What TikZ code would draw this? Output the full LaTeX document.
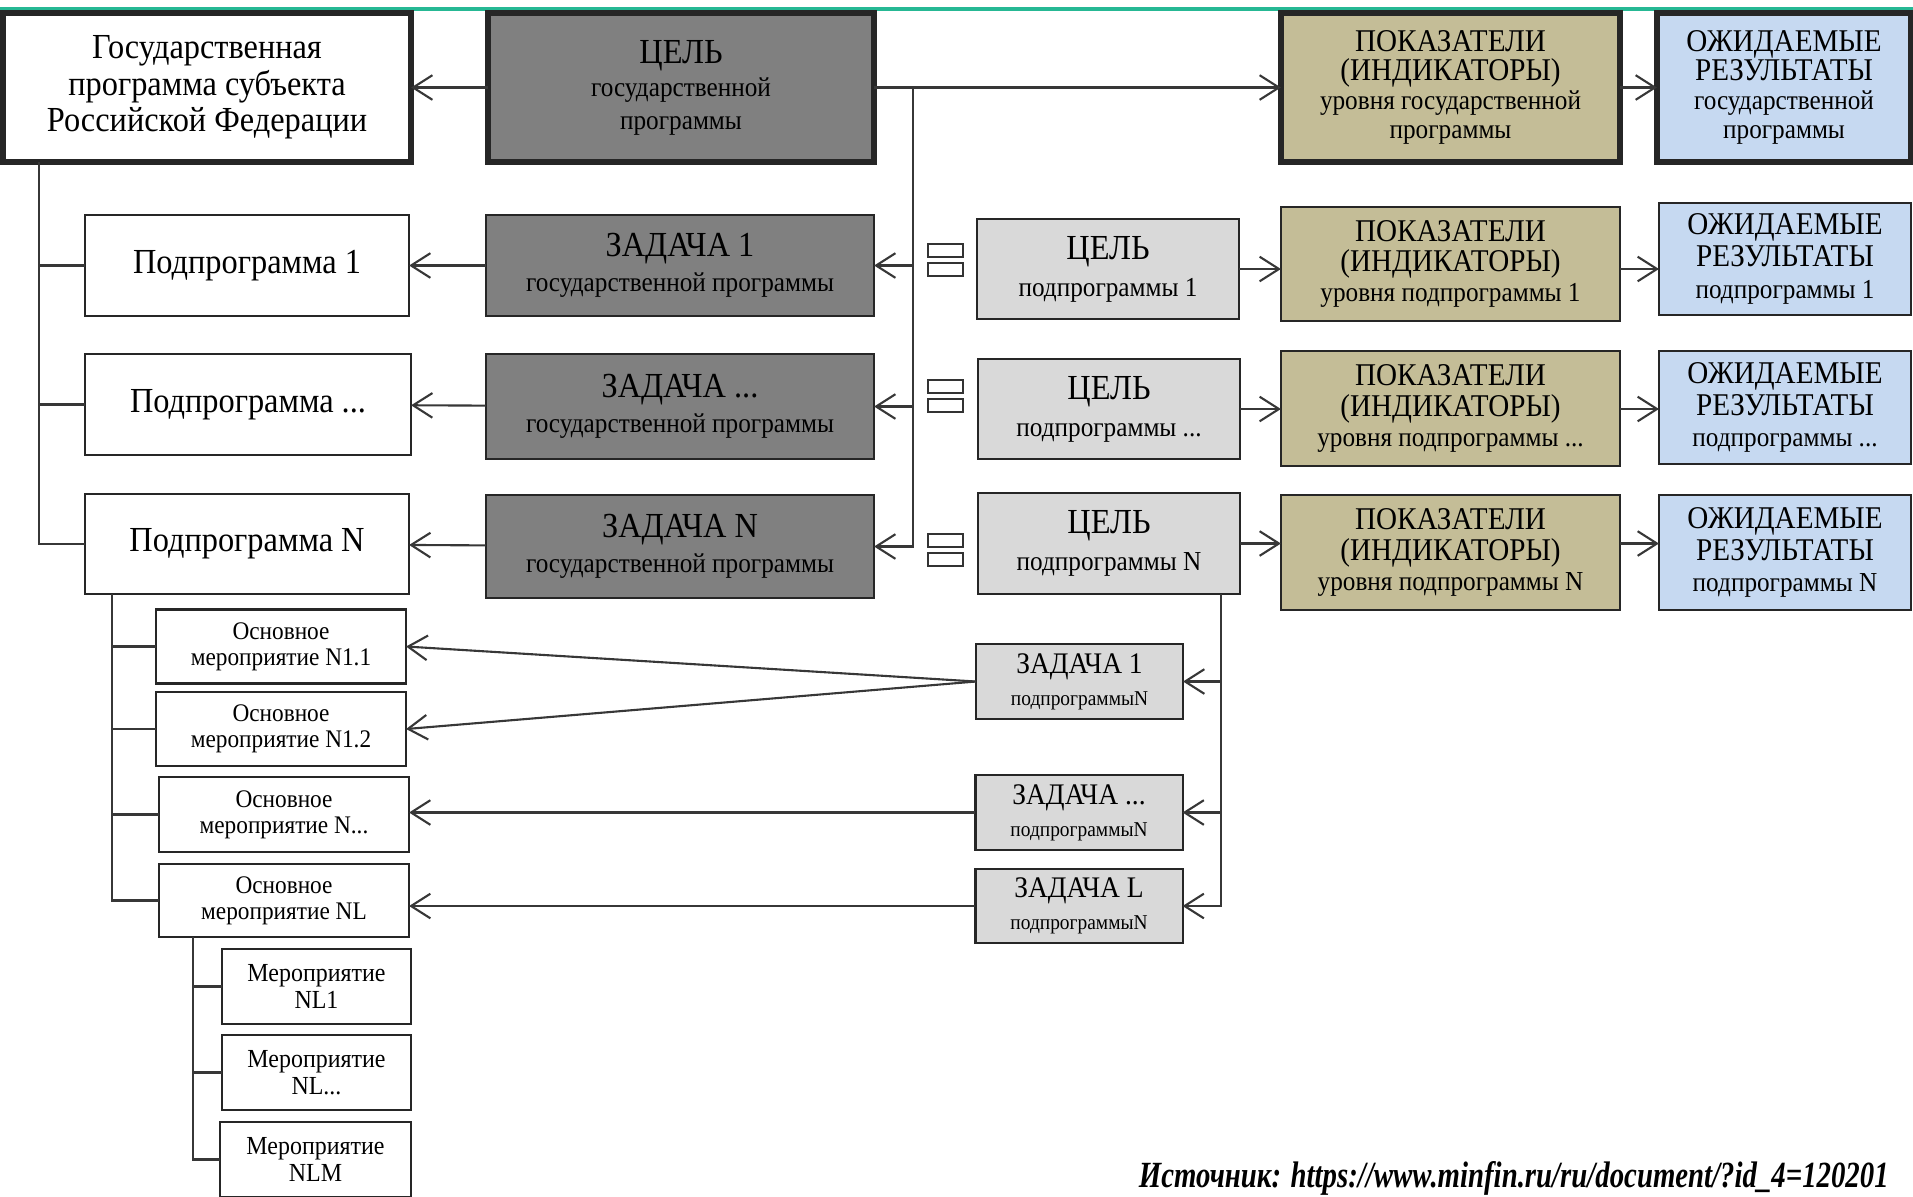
\documentclass[tikz,border=0pt]{standalone}
\usepackage{fontspec}
\setmainfont{Liberation Serif}[FakeStretch=0.92]
\newfontfamily\srcfont{Liberation Serif}[FakeStretch=0.78]
\usetikzlibrary{arrows.meta}
\definecolor{goalgray}{RGB}{128,128,128}
\definecolor{subgray}{RGB}{217,217,217}
\definecolor{indkhaki}{RGB}{196,189,151}
\definecolor{resblue}{RGB}{198,217,241}
\definecolor{topteal}{RGB}{38,184,148}
\definecolor{linegray}{RGB}{55,55,55}
\newcommand{\smalltx}[1]{{\fontsize{7.8}{8}\selectfont #1}}
\newcommand{\tinytx}[1]{{\fontsize{6}{6}\selectfont #1}}
\begin{document}
\begin{tikzpicture}[x=0.01cm, y=-0.01cm,
  box/.style={draw=black!85, line width=0.6pt, inner sep=0pt, outer sep=0pt, align=center,
    font=\fontsize{9.5}{10.5}\selectfont},
  heavy/.style={box, line width=1.5pt},
  toprow/.style={heavy, minimum height=1.49cm},
  subbox/.style={box, fill=white, minimum width=3.24cm, minimum height=1.01cm, font=\fontsize{10}{11}\selectfont},
  taskbox/.style={box, fill=goalgray, minimum width=3.88cm, minimum height=1.03cm, font=\fontsize{10}{10}\selectfont},
  sgoal/.style={box, fill=subgray, minimum width=2.62cm, minimum height=1.0cm, font=\fontsize{10}{10.5}\selectfont},
  sind/.style={box, fill=indkhaki, minimum width=3.39cm, minimum height=1.15cm, font=\fontsize{9}{8.6}\selectfont},
  sres/.style={box, fill=resblue, minimum width=2.52cm, minimum height=1.13cm, font=\fontsize{9}{9}\selectfont},
  mainev/.style={box, minimum width=2.5cm, minimum height=0.74cm, font=\fontsize{7.2}{7.4}\selectfont},
  event/.style={box, minimum width=1.89cm, minimum height=0.75cm, font=\fontsize{7.4}{7.6}\selectfont},
  stask/.style={box, fill=subgray, minimum width=2.07cm, minimum height=0.75cm, font=\fontsize{8.5}{9}\selectfont},
  glyph/.style={draw=black!80, line width=0.6pt, minimum width=0.35cm, minimum height=0.13cm, inner sep=0pt},
  conn/.style={draw=linegray, line width=0.6pt},
  arr/.style={conn, -{Straight Barb[length=5.5pt,width=7pt,line width=0.6pt]}}]

\useasboundingbox (0,0) rectangle (1913,1196);
\draw[topteal, line width=1.2pt] (0,9) -- (1913,9);

\node[toprow, fill=white, minimum width=4.08cm, font=\fontsize{10}{10.4}\selectfont] (gp) at (207,87.5)
  {Государственная\\программа субъекта\\Российской Федерации};
\node[toprow, fill=goalgray, minimum width=3.86cm, font=\fontsize{10}{9.4}\selectfont] (goal) at (681,87.5)
  {ЦЕЛЬ\\\smalltx{государственной}\\\smalltx{программы}};
\node[toprow, fill=indkhaki, minimum width=3.39cm, font=\fontsize{9}{8.2}\selectfont] (ind0) at (1450.5,87.5)
  {ПОКАЗАТЕЛИ\\(ИНДИКАТОРЫ)\\\smalltx{уровня государственной}\\\smalltx{программы}};
\node[toprow, fill=resblue, minimum width=2.54cm, font=\fontsize{9}{8.2}\selectfont] (res0) at (1784,87.5)
  {ОЖИДАЕМЫЕ\\РЕЗУЛЬТАТЫ\\\smalltx{государственной}\\\smalltx{программы}};

\node[subbox] (sub1) at (247,265.5) {Подпрограмма 1};
\node[subbox, minimum width=3.26cm] (sub2) at (248,404.5) {Подпрограмма ...};
\node[subbox, minimum height=1.0cm] (sub3) at (247,544) {Подпрограмма N};

\node[taskbox, minimum height=1.01cm] (task1) at (680,265.5) {ЗАДАЧА 1\\\smalltx{государственной программы}};
\node[taskbox, minimum height=1.05cm] (task2) at (680,406.5) {ЗАДАЧА ...\\\smalltx{государственной программы}};
\node[taskbox] (task3) at (680,546.5) {ЗАДАЧА N\\\smalltx{государственной программы}};

\node[glyph] (gl1a) at (945.5,250.5) {};
\node[glyph] (gl1b) at (945.5,269.5) {};
\node[glyph] (gl2a) at (945.5,386.5) {};
\node[glyph] (gl2b) at (945.5,405.5) {};
\node[glyph] (gl3a) at (945.5,540.5) {};
\node[glyph] (gl3b) at (945.5,559.5) {};

\node[sgoal] (sg1) at (1108,269) {ЦЕЛЬ\\\smalltx{подпрограммы 1}};
\node[sgoal] (sg2) at (1109,409) {ЦЕЛЬ\\\smalltx{подпрограммы ...}};
\node[sgoal, minimum height=1.01cm] (sg3) at (1109,543.5) {ЦЕЛЬ\\\smalltx{подпрограммы N}};

\node[sind, minimum height=1.14cm] (si1) at (1450.5,264) {ПОКАЗАТЕЛИ\\(ИНДИКАТОРЫ)\\\smalltx{уровня подпрограммы 1}};
\node[sind] (si2) at (1450.5,408.5) {ПОКАЗАТЕЛИ\\(ИНДИКАТОРЫ)\\\smalltx{уровня подпрограммы ...}};
\node[sind] (si3) at (1450.5,552.5) {ПОКАЗАТЕЛИ\\(ИНДИКАТОРЫ)\\\smalltx{уровня подпрограммы N}};

\node[sres, minimum height=1.12cm] (sr1) at (1785,259) {ОЖИДАЕМЫЕ\\РЕЗУЛЬТАТЫ\\\smalltx{подпрограммы 1}};
\node[sres] (sr2) at (1785,407.5) {ОЖИДАЕМЫЕ\\РЕЗУЛЬТАТЫ\\\smalltx{подпрограммы ...}};
\node[sres, minimum height=1.15cm] (sr3) at (1785,552.5) {ОЖИДАЕМЫЕ\\РЕЗУЛЬТАТЫ\\\smalltx{подпрограммы N}};

\node[mainev] (m11) at (281,646.5) {Основное\\мероприятие N1.1};
\node[mainev] (m12) at (281,729) {Основное\\мероприятие N1.2};
\node[mainev, minimum height=0.75cm] (m1d) at (284,814.5) {Основное\\мероприятие N...};
\node[mainev, minimum height=0.73cm] (m1L) at (284,900.5) {Основное\\мероприятие NL};

\node[event] (a1) at (316.5,986.5) {Мероприятие\\NL1};
\node[event] (a2) at (316.5,1072.5) {Мероприятие\\NL...};
\node[event, minimum width=1.91cm] (a3) at (315.5,1159.5) {Мероприятие\\NLM};

\node[stask] (tk1) at (1079.5,681.5) {ЗАДАЧА 1\\\tinytx{подпрограммыN}};
\node[stask] (tk2) at (1079,812.5) {ЗАДАЧА ...\\\tinytx{подпрограммыN}};
\node[stask, minimum height=0.74cm] (tk3) at (1079,906) {ЗАДАЧА L\\\tinytx{подпрограммыN}};

\node[anchor=base east, font=\srcfont\bfseries\itshape\fontsize{10.5}{12}\selectfont] (src) at (1901,1187)
  {Источник: https://www.minfin.ru/ru/document/?id\_4=120201};

\coordinate (trunk) at (913,87.5);
\coordinate (gpfoot) at (39,162);
\coordinate (s3foot) at (112,594);
\coordinate (mlfoot) at (193,937);
\coordinate (sgfoot) at (1221,594);

\path[every edge/.style={arr}]
(goal) edge (gp)
(goal) edge (ind0)
(ind0) edge (res0)
(sg1) edge (sg1 -| si1.west)   (sg1 -| si1.east) edge (sg1 -| sr1.west)
(sg2) edge (sg2 -| si2.west)   (sg2 -| si2.east) edge (sg2 -| sr2.west)
(sg3) edge (sg3 -| si3.west)   (sg3 -| si3.east) edge (sg3 -| sr3.west)
(task1) edge (sub1)   (task2) edge (sub2)   (task3) edge (sub3)
(trunk |- task1) edge (task1)   (trunk |- task2) edge (task2)
(sgfoot |- tk1) edge (tk1)   (sgfoot |- tk2) edge (tk2)
(tk1.west) edge (m11.east)   (tk1.west) edge (m12.east)
(tk2) edge (tk2 -| m1d.east)   (tk3) edge (tk3 -| m1L.east);

\draw[arr] (trunk) |- (task3);
\draw[arr] (sgfoot) |- (tk3);
\draw[conn] (gpfoot) |- (sub3);
\draw[conn] (gpfoot |- sub1) -- (sub1)  (gpfoot |- sub2) -- (sub2);
\draw[conn] (s3foot) |- (m1L);
\draw[conn] (s3foot |- m11) -- (m11)  (s3foot |- m12) -- (m12)  (s3foot |- m1d) -- (m1d);
\draw[conn] (mlfoot) |- (a3);
\draw[conn] (mlfoot |- a1) -- (a1)  (mlfoot |- a2) -- (a2);
\end{tikzpicture}
\end{document}
